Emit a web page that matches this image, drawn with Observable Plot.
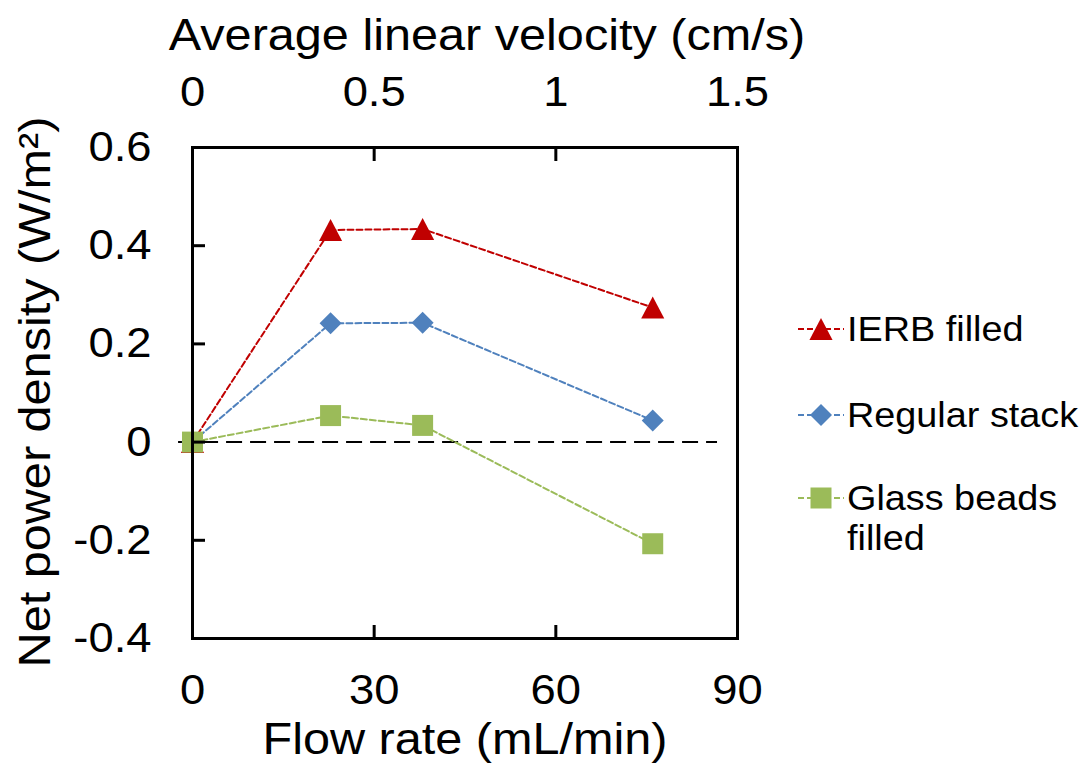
<!DOCTYPE html>
<html>
<head>
<meta charset="utf-8">
<script src="https://cdn.jsdelivr.net/npm/d3@7"></script>
<script src="https://cdn.jsdelivr.net/npm/@observablehq/plot@0.6"></script>
<style>
  body { margin: 0; background: #fff; }
  #wrap { position: relative; width: 1089px; height: 769px; font-family: "Liberation Sans", Arial, sans-serif; }
  .leg { position: absolute; left: 798px; display: flex; align-items: flex-start; font-size: 35px; line-height: 40px; color: #000; }
  .leg svg { flex: none; }
  .leg span { margin-left: 3px; white-space: nowrap; display: inline-block; transform: scaleX(1.08); transform-origin: left center; }
</style>
</head>
<body>
<div id="wrap"></div>
<script>
// ---- data ----
const flowRate = [0, 22.8, 38, 76];                 // mL/min
const ierbFilled = [0, 0.432, 0.434, 0.274];        // W/m2
const regularStack = [0, 0.242, 0.243, 0.044];
const glassBeads = [0, 0.054, 0.034, -0.207];
const seriesNames = ["IERB filled", "Regular stack", "Glass beads filled"];
const seriesColors = ["#C00000", "#4F81BD", "#9BBB59"];
const xTicks = [0, 30, 60, 90];
const yTicks = [-0.4, -0.2, 0, 0.2, 0.4, 0.6];
const velocityPerFlow = 1 / 60;                      // cm/s per mL/min
const zeroLineX = [-2.3, 86.7];

// ---- symbols ----
const triangle = {draw(c, size) { const s = Math.sqrt(size / Math.PI); c.moveTo(0, -s); c.lineTo(s * 1.05, s); c.lineTo(-s * 1.05, s); c.closePath(); }};
const diamond = {draw(c, size) { const s = Math.sqrt(size / Math.PI); c.moveTo(0, -s); c.lineTo(s, 0); c.lineTo(0, s); c.lineTo(-s, 0); c.closePath(); }};
const square = {draw(c, size) { const s = Math.sqrt(size / Math.PI); c.rect(-s, -s, 2 * s, 2 * s); }};
const symbols = [triangle, diamond, square];
const radii = [11, 11, 10.5];

const seriesValues = [ierbFilled, regularStack, glassBeads];
const rows = seriesValues.map((vals, i) => flowRate.map((f, j) => ({series: seriesNames[i], flow: f, power: vals[j]})));

const fmtY = d => String(+d.toFixed(1));

const marks = [
  Plot.ruleY([0], {x1: zeroLineX[0], x2: zeroLineX[1], stroke: "#000", strokeWidth: 2, strokeDasharray: "16,8"}),
];
rows.forEach((data, i) => {
  marks.push(Plot.line(data, {x: "flow", y: "power", stroke: seriesColors[i], strokeWidth: 2, strokeDasharray: "6,3"}));
});
rows.forEach((data, i) => {
  marks.push(Plot.dot(data, {x: "flow", y: "power", fill: seriesColors[i], stroke: "none", symbol: symbols[i], r: radii[i]}));
});
marks.push(
  Plot.frame({stroke: "#000", strokeWidth: 3}),
  // bottom axis: inward ticks + labels
  Plot.axisX({anchor: "bottom", ticks: xTicks, tickSize: -13, tickPadding: 49, strokeWidth: 3, fontSize: 42, label: null, tickFormat: d => String(d)}),
  // top axis (average linear velocity)
  Plot.axisX({anchor: "top", ticks: xTicks, tickSize: -13, tickPadding: 55, strokeWidth: 3, fontSize: 42, label: null, tickFormat: d => String(+(d * velocityPerFlow).toFixed(2))}),
  // left axis
  Plot.axisY({anchor: "left", ticks: yTicks, tickSize: -13, tickPadding: 54, strokeWidth: 3, fontSize: 42, label: null, tickFormat: fmtY}),
  Plot.text(["Flow rate (mL/min)"], {frameAnchor: "bottom", textAnchor: "middle", lineAnchor: "middle", dy: 101, fontSize: 45}),
  Plot.text(["Average linear velocity (cm/s)"], {frameAnchor: "top", textAnchor: "middle", lineAnchor: "middle", dy: -112, dx: 22, fontSize: 45}),
  Plot.text(["Net power density (W/m²)"], {frameAnchor: "left", textAnchor: "middle", lineAnchor: "middle", dx: -157, dy: -1, rotate: -90, fontSize: 45})
);

const chart = Plot.plot({
  width: 1089,
  height: 769,
  marginLeft: 192,
  marginRight: 352,
  marginTop: 147,
  marginBottom: 131,
  x: {domain: [0, 90]},
  y: {domain: [-0.4, 0.6]},
  style: {fontFamily: "'Liberation Sans', Arial, sans-serif", fontSize: "42px", color: "#000", background: "#fff", overflow: "visible"},
  marks
});
// the reference's lettering is slightly wide: stretch each text horizontally about its anchor
chart.querySelectorAll("text").forEach(t => {
  const tr = t.getAttribute("transform") || "";
  t.setAttribute("transform", (tr + " scale(1.08,1)").trim());
});
document.getElementById("wrap").appendChild(chart);

// ---- legend ----
const legendTops = [309, 395, 478];
const legendLabels = ["IERB filled", "Regular stack", "Glass beads<br>filled"];
seriesNames.forEach((name, i) => {
  const div = document.createElement("div");
  div.className = "leg";
  div.style.top = legendTops[i] + "px";
  const s = radii[i];
  let shape;
  if (i === 0) shape = `<path d="M23,${20 - s}L${23 + s * 1.05},${20 + s}L${23 - s * 1.05},${20 + s}Z" fill="${seriesColors[i]}"/>`;
  else if (i === 1) shape = `<path d="M23,${20 - s}L${23 + s},20L23,${20 + s}L${23 - s},20Z" fill="${seriesColors[i]}"/>`;
  else shape = `<rect x="${23 - s}" y="${20 - s}" width="${2 * s}" height="${2 * s}" fill="${seriesColors[i]}"/>`;
  div.innerHTML = `<svg width="46" height="40"><line x1="0" x2="46" y1="20" y2="20" stroke="${seriesColors[i]}" stroke-width="2" stroke-dasharray="6,3"/>${shape}</svg><span>${legendLabels[i]}</span>`;
  document.getElementById("wrap").appendChild(div);
});
</script>
</body>
</html>
